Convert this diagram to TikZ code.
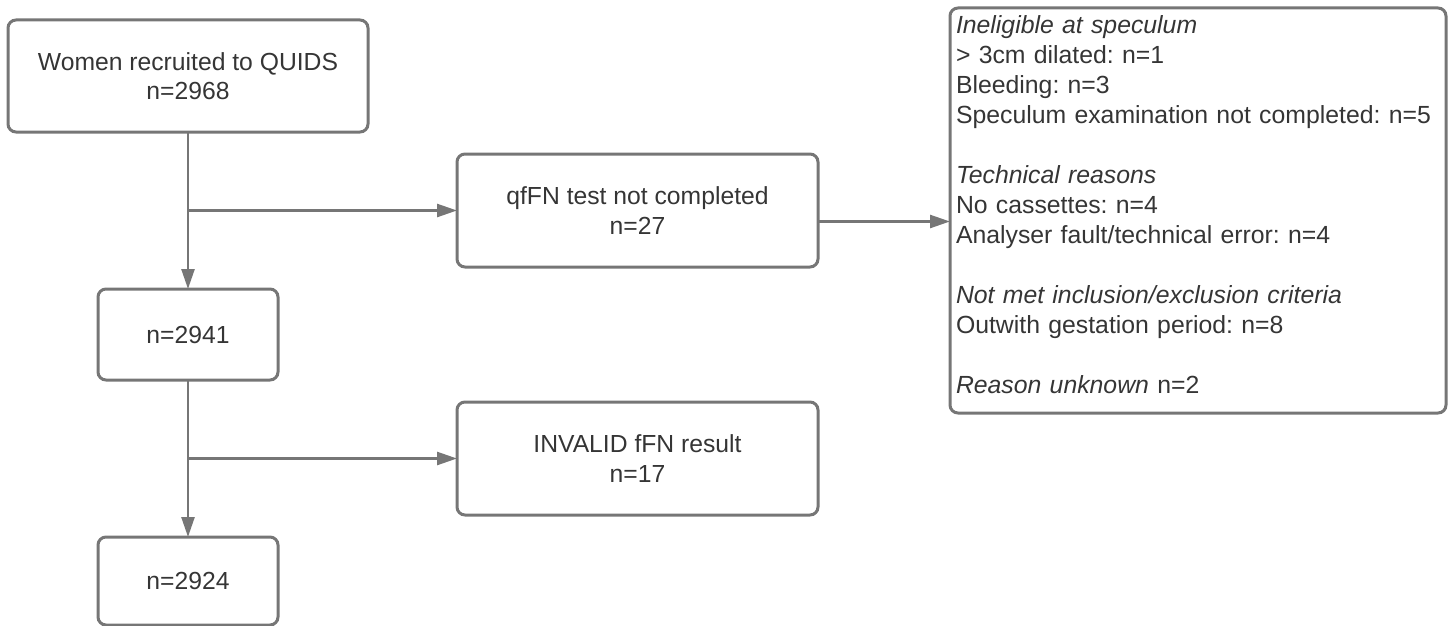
\documentclass[tikz,border=0pt]{standalone}
\usepackage{fontspec}
\setmainfont{Liberation Sans}
\frenchspacing
\usetikzlibrary{arrows.meta,positioning,calc}
\definecolor{linegray}{HTML}{767676}
\definecolor{textgray}{HTML}{353535}

\begin{document}
\begin{tikzpicture}[
    stage/.style={draw=linegray, line width=3pt, outer sep=0pt, rounded corners=8pt, align=center,
        text=textgray, font=\fontsize{24.7pt}{29.5pt}\selectfont},
    flow/.style={draw=linegray, line width=2.5pt, -{Triangle[length=20pt, width=13pt]}}
    ]
    \useasboundingbox (0,0) rectangle (1448pt,-626pt);

    \node[stage, minimum width=360pt, minimum height=112pt] (recruit) at (188pt,-76pt) {Women recruited to QUIDS\\n=2968};
    \node[stage, minimum width=180pt, minimum height=91pt, below=157pt of recruit] (n2941) {n=2941};
    \node[stage, minimum width=180pt, minimum height=88pt, below=157pt of n2941] (n2924) {n=2924};

    \coordinate (b1) at ($(recruit.south)!0.5!(n2941.north)$);
    \coordinate (b2) at ($(n2941.south)!0.5!(n2924.north)$);

    \node[stage, minimum width=361pt, minimum height=113pt, right=269pt of b1] (qf) {qfFN test not completed\\n=27};
    \node[stage, minimum width=361pt, minimum height=113pt, right=269pt of b2] (invalid) {INVALID fFN result\\n=17};

    \node[stage, align=left, inner xsep=6pt, text width=484pt, minimum height=405pt,
        font=\fontsize{24.8pt}{30pt}\selectfont, right=132pt of qf] (reasons) {%
        \textit{Ineligible at speculum}\\
        > 3cm dilated: n=1\\
        Bleeding: n=3\\
        Speculum examination not completed: n=5\\[30pt]
        \textit{Technical reasons}\\
        No cassettes: n=4\\
        Analyser fault/technical error: n=4\\[30pt]
        \textit{Not met inclusion/exclusion criteria}\\
        Outwith gestation period: n=8\\[30pt]
        \textit{Reason unknown} n=2\rule[-11pt]{0pt}{11pt}};

    \draw[flow] (recruit) -- (n2941);
    \draw[flow] (n2941) -- (n2924);
    \draw[flow] (b1) -- (qf);
    \draw[flow] (b2) -- (invalid);
    \draw[flow] ([yshift=-11pt]qf.east) -- ([yshift=-11pt]qf.east -| reasons.west);

\end{tikzpicture}
\end{document}
